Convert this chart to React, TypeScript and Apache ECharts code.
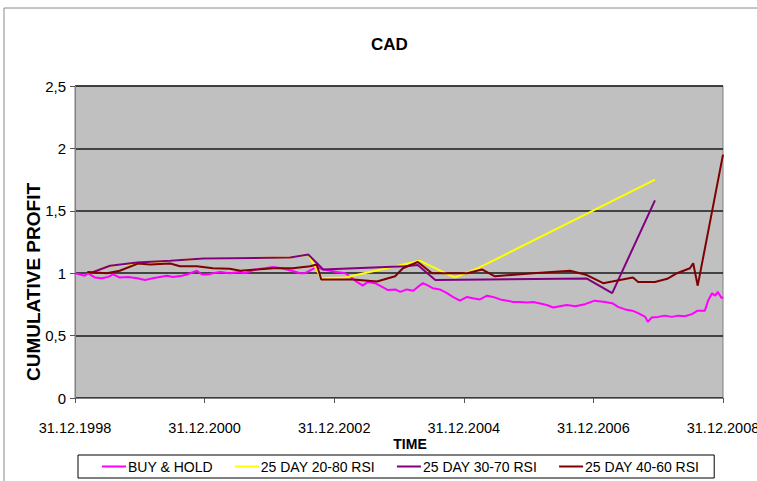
import React, { useEffect, useRef } from "react";
import * as echarts from "echarts";

// Time axis: years elapsed since 31.12.1998
const xTickLabels = ["31.12.1998", "31.12.2000", "31.12.2002", "31.12.2004", "31.12.2006", "31.12.2008"];
const yTickLabels = ["0", "0,5", "1", "1,5", "2", "2,5"];

const seriesNames = ["BUY & HOLD", "25 DAY 20-80 RSI", "25 DAY 30-70 RSI", "25 DAY 40-60 RSI"];

// Buy & hold cumulative profit
const buyHoldYears = [
  0, 0.08, 0.15, 0.2, 0.31, 0.41, 0.51, 0.59, 0.69, 0.82, 0.96, 1.08, 1.2, 1.31, 1.42, 1.51, 1.65, 1.73,
  1.88, 1.96, 2.04, 2.13, 2.24, 2.39, 2.55, 2.62, 2.78, 2.93, 3.06, 3.19, 3.35, 3.47, 3.55, 3.66, 3.73,
  3.83, 3.94, 4.04, 4.17, 4.24, 4.35, 4.44, 4.52, 4.63, 4.74, 4.83, 4.94, 5.02, 5.12, 5.22, 5.29, 5.37,
  5.45, 5.52, 5.63, 5.74, 5.83, 5.94, 6.05, 6.14, 6.25, 6.36, 6.45, 6.56, 6.67, 6.76, 6.87, 6.98, 7.07,
  7.18, 7.28, 7.38, 7.48, 7.59, 7.72, 7.87, 8.02, 8.18, 8.29, 8.38, 8.49, 8.6, 8.69, 8.8, 8.84, 8.9, 9.0,
  9.1, 9.21, 9.31, 9.41, 9.52, 9.61, 9.72, 9.77, 9.83, 9.88, 9.92, 9.98, 10.0,
];
const buyHold = [
  1.0, 0.99, 0.98, 1.0, 0.965, 0.96, 0.97, 0.99, 0.965, 0.97, 0.96, 0.945, 0.96, 0.97, 0.98, 0.97, 0.98, 0.99,
  1.02, 0.99, 0.99, 1.0, 1.01, 1.0, 1.01, 1.0, 1.03, 1.04, 1.05, 1.04, 1.02, 1.0, 1.0, 1.03, 1.05,
  1.03, 1.02, 1.01, 1.0, 0.975, 0.93, 0.9, 0.93, 0.92, 0.89, 0.865, 0.87, 0.85, 0.87, 0.86, 0.89, 0.92,
  0.9, 0.88, 0.87, 0.84, 0.81, 0.78, 0.81, 0.8, 0.79, 0.82, 0.81, 0.79, 0.78, 0.77, 0.77, 0.765, 0.77,
  0.757, 0.745, 0.725, 0.735, 0.745, 0.735, 0.752, 0.78, 0.77, 0.76, 0.73, 0.71, 0.7, 0.68, 0.65, 0.61, 0.645, 0.65,
  0.66, 0.65, 0.66, 0.655, 0.672, 0.7, 0.7, 0.78, 0.84, 0.82, 0.85, 0.8, 0.81,
];

// 25 day RSI 20-80
const rsi2080Years = [0.23, 0.54, 0.96, 1.47, 1.98, 3.32, 3.6, 3.8, 4.17, 5.32, 5.86, 6.22, 8.95];
const rsi2080 = [1.0, 1.06, 1.08, 1.1, 1.117, 1.125, 1.15, 0.96, 0.965, 1.1, 0.965, 1.04, 1.75];

// 25 day RSI 30-70
const rsi3070Years = [0.23, 0.54, 0.96, 1.47, 1.98, 3.32, 3.6, 3.83, 5.09, 5.29, 5.56, 7.9, 8.29, 8.95];
const rsi3070 = [1.0, 1.06, 1.085, 1.1, 1.117, 1.125, 1.15, 1.03, 1.055, 1.065, 0.945, 0.957, 0.84, 1.584];

// 25 day RSI 40-60
const rsi4060Years = [
  0.19, 0.49, 0.69, 0.97, 1.16, 1.47, 1.62, 1.88, 2.13, 2.39, 2.55, 2.81, 3.06, 3.36, 3.63, 3.73, 3.8,
  4.29, 4.66, 4.94, 5.06, 5.29, 5.51, 6.05, 6.28, 6.48, 7.07, 7.64, 7.9, 8.15, 8.61, 8.69, 8.95, 9.14,
  9.29, 9.49, 9.54, 9.61, 10.0,
];
const rsi4060 = [
  1.01, 1.0, 1.02, 1.077, 1.07, 1.077, 1.056, 1.056, 1.04, 1.035, 1.02, 1.03, 1.04, 1.04, 1.056, 1.07, 0.95,
  0.95, 0.933, 0.976, 1.04, 1.09, 1.0, 1.0, 1.03, 0.975, 1.0, 1.02, 0.985, 0.92, 0.965, 0.93, 0.93, 0.955,
  1.0, 1.04, 1.08, 0.9, 1.95,
];

const zip = (xs: number[], ys: number[]) => xs.map((x, i) => [x, ys[i]]);

const SANS = "'Liberation Sans', Arial, sans-serif";

export default function App() {
  const ref = useRef<HTMLDivElement>(null);

  useEffect(() => {
    if (!ref.current) return;
    const chart = echarts.init(ref.current, null, { renderer: "svg" });

    const lineSeries = (name: string, data: number[][], color: string, width: number) => ({
      name,
      type: "line",
      data,
      showSymbol: false,
      symbol: "none",
      lineStyle: { color, width },
      itemStyle: { color },
    });

    chart.setOption({
      animation: false,
      backgroundColor: "#ffffff",
      title: {
        text: "CAD",
        left: 366,
        top: 31,
        textStyle: { fontFamily: SANS, fontSize: 17, fontWeight: "bold", color: "#000" },
      },
      grid: {
        left: 75,
        top: 86,
        width: 648,
        height: 312,
        outerBoundsMode: "none",
        containLabel: false,
        show: true,
        backgroundColor: "#C0C0C0",
        borderColor: "#808080",
        borderWidth: 1,
      },
      xAxis: {
        type: "value",
        min: 0,
        max: 10,
        interval: 2,
        axisLine: { show: true, lineStyle: { color: "#808080", width: 1 } },
        axisTick: { show: true, length: 5, lineStyle: { color: "#555" } },
        splitLine: { show: false },
        axisLabel: {
          margin: 22,
          fontFamily: SANS,
          fontSize: 14.5,
          color: "#000",
          formatter: (v: number) => xTickLabels[Math.round(v / 2)] ?? "",
        },
      },
      yAxis: {
        type: "value",
        min: 0,
        max: 2.5,
        interval: 0.5,
        axisLine: { show: true, lineStyle: { color: "#808080", width: 1 } },
        axisTick: { show: true, length: 5, lineStyle: { color: "#555" } },
        splitLine: { show: true, lineStyle: { color: "#1a1a1a", width: 1.5 } },
        axisLabel: {
          margin: 9,
          fontFamily: SANS,
          fontSize: 15,
          color: "#000",
          formatter: (v: number) => yTickLabels[Math.round(v * 2)] ?? "",
        },
      },
      legend: {
        data: seriesNames,
        left: 78,
        top: 455,
        orient: "horizontal",
        padding: [4, 15, 4, 24],
        itemGap: 22,
        itemWidth: 24,
        itemHeight: 2,
        icon: "rect",
        borderColor: "#000",
        borderWidth: 1,
        backgroundColor: "#fff",
        textStyle: { fontFamily: SANS, fontSize: 14, lineHeight: 15, color: "#000", padding: [0, 0, 0, -3] },
      },
      graphic: [
        {
          type: "rect",
          shape: { x: 4, y: 8, width: 800, height: 520 },
          style: { fill: "none", stroke: "#8a8a8a", lineWidth: 1 },
          silent: true,
        },
        {
          type: "text",
          x: 33,
          y: 282,
          rotation: Math.PI / 2,
          style: {
            text: "CUMULATIVE PROFIT",
            fontFamily: SANS,
            fontSize: 19,
            fontWeight: "bold",
            fill: "#000",
            align: "center",
            verticalAlign: "middle",
          },
        },
        {
          type: "text",
          x: 410,
          y: 444,
          style: {
            text: "TIME",
            fontFamily: SANS,
            fontSize: 14,
            fontWeight: "bold",
            fill: "#000",
            align: "center",
            verticalAlign: "middle",
          },
        },
      ],
      series: [
        lineSeries(seriesNames[0], zip(buyHoldYears, buyHold), "#FF00FF", 2),
        lineSeries(seriesNames[1], zip(rsi2080Years, rsi2080), "#FFFF00", 2),
        lineSeries(seriesNames[2], zip(rsi3070Years, rsi3070), "#800080", 2),
        lineSeries(seriesNames[3], zip(rsi4060Years, rsi4060), "#800000", 2),
      ],
    });

    return () => chart.dispose();
  }, []);

  return (
    <div
      ref={ref}
      style={{ position: "fixed", left: 0, top: 0, width: 757, height: 481, background: "#fff" }}
    />
  );
}
